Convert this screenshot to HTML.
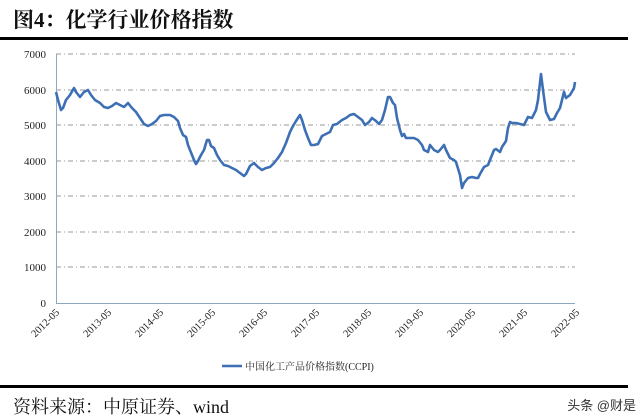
<!DOCTYPE html>
<html><head><meta charset="utf-8"><style>
body{margin:0;background:#fff;width:640px;height:420px;overflow:hidden}
svg{display:block}
</style></head><body>
<svg width="640" height="420" xmlns="http://www.w3.org/2000/svg">
<text x="13" y="27" font-family="Liberation Serif, Noto Serif CJK SC, serif" font-weight="bold" font-size="21" fill="#111">图4：化学行业价格指数</text>
<rect x="0" y="37" width="628" height="3" fill="#000"/>
<g stroke="#999" stroke-width="1" stroke-dasharray="5,3,1,3">
<line x1="56" y1="54" x2="575" y2="54"/><line x1="56" y1="90" x2="575" y2="90"/>
<line x1="56" y1="125" x2="575" y2="125"/><line x1="56" y1="161" x2="575" y2="161"/>
<line x1="56" y1="196" x2="575" y2="196"/><line x1="56" y1="232" x2="575" y2="232"/>
<line x1="56" y1="267" x2="575" y2="267"/>
</g>
<line x1="56.5" y1="54" x2="56.5" y2="303" stroke="#8fa7c4"/>
<line x1="56" y1="303.5" x2="575" y2="303.5" stroke="#8fa7c4"/>
<g font-family="Liberation Serif, serif" font-size="11" fill="#222" text-anchor="end">
<text x="46" y="58">7000</text><text x="46" y="94">6000</text><text x="46" y="129">5000</text>
<text x="46" y="165">4000</text><text x="46" y="200">3000</text><text x="46" y="236">2000</text>
<text x="46" y="271">1000</text><text x="46" y="307">0</text>
</g>
<g font-family="Liberation Serif, serif" font-size="10.5" fill="#222" text-anchor="end">
<text transform="translate(60,313) rotate(-45)">2012-05</text>
<text transform="translate(112,313) rotate(-45)">2013-05</text>
<text transform="translate(164,313) rotate(-45)">2014-05</text>
<text transform="translate(216,313) rotate(-45)">2015-05</text>
<text transform="translate(268,313) rotate(-45)">2016-05</text>
<text transform="translate(320,313) rotate(-45)">2017-05</text>
<text transform="translate(372,313) rotate(-45)">2018-05</text>
<text transform="translate(424,313) rotate(-45)">2019-05</text>
<text transform="translate(476,313) rotate(-45)">2020-05</text>
<text transform="translate(528,313) rotate(-45)">2021-05</text>
<text transform="translate(580,313) rotate(-45)">2022-05</text>
</g>
<polyline fill="none" stroke="#3d6fb5" stroke-width="2.6" stroke-linejoin="round" points="56,92 58,100 61,110 63,108 66,100 70,95 74,88 76,92 80,97 84,92 88,90 91,95 95,100 100,103 104,107 108,108 112,106 116,103 120,105 124,107 128,103 132,108 136,112 140,118 144,124 148,126 152,124 156,121 160,116 164,115 170,115 174,117 178,121 180,128 183,135 186,137 188,145 192,155 194,160 196,164 198,161 201,155 204,150 207,140 209,140 211,146 214,148 217,155 220,160 224,165 228,166 232,168 236,170 240,173 244,176 246,174 250,166 254,163 258,167 262,170 266,168 270,167 274,163 278,158 282,152 286,143 290,132 293,126 296,121 300,115 302,120 305,130 308,138 311,145 314,145 318,144 322,136 326,134 330,132 333,125 337,124 342,120 346,118 350,115 354,114 358,117 362,120 365,125 369,122 372,118 376,121 379,124 382,120 385,110 388,97 390,97 393,103 395,105 397,118 400,130 402,136 404,134 406,138 410,138 414,138 418,140 422,145 424,150 428,152 430,145 434,150 438,152 440,150 444,145 446,150 450,158 454,160 456,162 460,175 462,188 464,183 468,178 472,177 476,178 478,178 480,174 484,167 488,165 490,160 494,150 496,149 500,152 502,147 506,141 508,128 510,122 512,123 516,123 520,124 524,125 528,117 532,118 536,110 538,100 541,74 543,90 546,112 550,120 554,119 557,113 560,108 562,100 564,92 566,98 570,95 574,88 575,82"/>
<line x1="222" y1="366" x2="242" y2="366" stroke="#3d6fb5" stroke-width="2.5"/>
<text x="245" y="370" font-family="Liberation Serif, Noto Serif CJK SC, serif" font-size="10" fill="#222">中国化工产品价格指数(CCPI)</text>
<rect x="0" y="385" width="628" height="3" fill="#000"/>
<text x="13" y="413" font-family="Liberation Serif, Noto Serif CJK SC, serif" font-size="18" fill="#111">资料来源：中原证券、wind</text>
<text x="636" y="410" text-anchor="end" font-family="Liberation Sans, Noto Sans CJK SC, sans-serif" font-size="13" fill="#333">头条 @财是</text>
</svg>
</body></html>
